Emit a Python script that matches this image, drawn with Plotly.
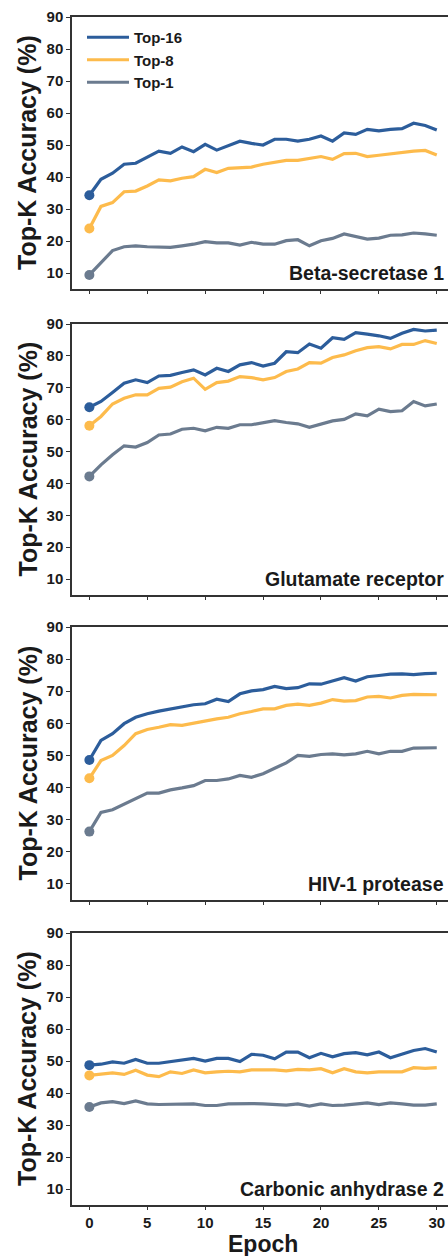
import plotly.graph_objects as go

epochs = list(range(31))

panel_names = ["Beta-secretase 1", "Glutamate receptor", "HIV-1 protease", "Carbonic anhydrase 2"]
series_names = ["Top-16", "Top-8", "Top-1"]

beta_top16 = [34.3, 39.3, 41.2, 44.0, 44.3, 46.1, 48.1, 47.4, 49.4, 47.9, 50.2, 48.4, 49.7, 51.2, 50.5, 50.0,
              51.8, 51.8, 51.2, 51.8, 52.8, 51.2, 53.8, 53.3, 54.9, 54.4, 54.9, 55.1, 56.8, 56.1, 54.7]
beta_top8 = [23.9, 30.8, 32.0, 35.4, 35.6, 37.2, 39.1, 38.8, 39.6, 40.1, 42.4, 41.4, 42.7, 42.9, 43.1, 44.0,
             44.5, 45.2, 45.2, 45.7, 46.4, 45.5, 47.3, 47.4, 46.4, 46.8, 47.3, 47.6, 48.1, 48.3, 46.9]
beta_top1 = [9.4, 13.3, 17.0, 18.2, 18.5, 18.2, 18.2, 18.0, 18.5, 19.0, 19.8, 19.4, 19.4, 18.7, 19.6, 19.0,
             19.0, 20.1, 20.4, 18.5, 20.1, 20.8, 22.2, 21.4, 20.6, 20.9, 21.8, 21.9, 22.5, 22.2, 21.8]

glu_top16 = [63.9, 65.7, 68.5, 71.4, 72.5, 71.6, 73.7, 73.9, 74.8, 75.6, 74.0, 76.1, 75.1, 77.2, 77.9, 76.8,
             77.7, 81.3, 81.0, 83.7, 82.4, 85.7, 85.2, 87.3, 86.8, 86.3, 85.5, 87.1, 88.3, 87.8, 88.1]
glu_top8 = [58.1, 61.0, 64.9, 66.7, 67.8, 67.8, 69.8, 70.2, 71.9, 73.0, 69.5, 71.6, 72.1, 73.5, 73.2, 72.5,
            73.2, 75.1, 75.9, 77.9, 77.7, 79.5, 80.3, 81.6, 82.6, 82.9, 82.2, 83.6, 83.6, 84.8, 83.9]
glu_top1 = [42.2, 45.8, 49.0, 51.8, 51.4, 52.8, 55.2, 55.5, 57.0, 57.3, 56.5, 57.6, 57.3, 58.4, 58.4, 59.1,
            59.7, 59.1, 58.7, 57.6, 58.7, 59.6, 60.1, 61.8, 61.2, 63.3, 62.5, 62.8, 65.7, 64.3, 64.9]

hiv_top16 = [48.6, 54.7, 56.8, 59.9, 61.9, 63.0, 63.8, 64.5, 65.3, 65.8, 66.1, 67.5, 66.8, 69.2, 70.1, 70.5,
             71.5, 70.8, 71.1, 72.3, 72.2, 73.1, 74.2, 73.2, 74.5, 74.9, 75.3, 75.4, 75.2, 75.5, 75.6]
hiv_top8 = [42.9, 48.4, 50.0, 53.1, 56.8, 58.1, 58.8, 59.6, 59.4, 60.1, 60.9, 61.4, 61.9, 63.0, 63.7, 64.5,
            64.5, 65.6, 66.0, 65.6, 66.3, 67.4, 66.9, 67.1, 68.2, 68.4, 67.9, 68.7, 69.0, 69.0, 68.9]
hiv_top1 = [26.3, 32.3, 33.1, 34.9, 36.5, 38.3, 38.3, 39.3, 39.9, 40.6, 42.2, 42.2, 42.7, 43.8, 43.2, 44.3,
            46.0, 47.7, 50.0, 49.7, 50.3, 50.5, 50.2, 50.5, 51.3, 50.5, 51.3, 51.3, 52.3, 52.4, 52.4]

ca_top16 = [48.7, 49.0, 49.7, 49.3, 50.5, 49.3, 49.3, 49.8, 50.2, 50.8, 50.0, 50.8, 50.8, 49.8, 52.1, 51.8,
            50.7, 52.8, 52.8, 51.0, 52.4, 51.3, 52.3, 52.6, 51.9, 52.8, 51.0, 52.1, 53.3, 53.9, 52.8]
ca_top8 = [45.5, 45.8, 46.3, 45.8, 47.1, 45.6, 45.1, 46.6, 46.1, 47.2, 46.3, 46.6, 46.8, 46.6, 47.2, 47.2,
           47.2, 46.9, 47.4, 47.2, 47.6, 46.3, 47.6, 46.6, 46.3, 46.6, 46.6, 46.6, 47.9, 47.7, 47.9]
ca_top1 = [35.6, 36.9, 37.3, 36.7, 37.5, 36.6, 36.4, 36.4, 36.4, 36.6, 36.1, 36.1, 36.6, 36.7, 36.7, 36.6,
           36.4, 36.2, 36.6, 35.9, 36.6, 36.1, 36.2, 36.6, 36.9, 36.4, 36.9, 36.6, 36.2, 36.2, 36.6]

panels = [
    [beta_top16, beta_top8, beta_top1],
    [glu_top16, glu_top8, glu_top1],
    [hiv_top16, hiv_top8, hiv_top1],
    [ca_top16, ca_top8, ca_top1],
]

y_ticks = [10, 20, 30, 40, 50, 60, 70, 80, 90]
x_ticks = [0, 5, 10, 15, 20, 25, 30]

colors = ["#2c5d9b", "#fdbb4c", "#6b7b8f"]
FONT = "Liberation Sans, Arial, sans-serif"
TXT = "#1a1a1a"
AX = "#333333"

W, H = 448, 1256
# pixel layout of each panel (top, bottom)
panel_px = [(17, 289), (324, 595), (627, 900), (933, 1205)]
x_left_px = 72

fig = go.Figure()
layout = dict(
    width=W, height=H,
    margin=dict(l=0, r=0, t=0, b=0),
    paper_bgcolor="white", plot_bgcolor="white",
    font=dict(family=FONT, color=TXT),
    showlegend=True,
    legend=dict(x=82 / W, y=(H - 21) / H, xanchor="left", yanchor="top",
                bgcolor="rgba(0,0,0,0)", font=dict(size=15, family=FONT, color=TXT),
                tracegroupgap=0, itemwidth=42),
)
annotations = []

for p, (vals, name) in enumerate(zip(panels, panel_names)):
    idx = p + 1
    xa = "x" if idx == 1 else f"x{idx}"
    ya = "y" if idx == 1 else f"y{idx}"
    for s, (v, sname) in enumerate(zip(vals, series_names)):
        fig.add_trace(go.Scatter(
            x=epochs, y=v, mode="lines", name=f"<b>{sname}</b>",
            line=dict(color=colors[s], width=3.2),
            xaxis=xa, yaxis=ya, showlegend=(p == 0), legendgroup=sname,
        ))
    for s, v in enumerate(vals):
        fig.add_trace(go.Scatter(
            x=epochs[:1], y=v[:1], mode="markers",
            marker=dict(color=colors[s], size=10),
            xaxis=xa, yaxis=ya, showlegend=False, hoverinfo="skip",
        ))
    top, bot = panel_px[p]
    ydom = [(H - bot) / H, (H - top) / H]
    last = (p == 3)
    layout["xaxis" if idx == 1 else f"xaxis{idx}"] = dict(
        domain=[x_left_px / W, 1.0], range=[-1.5, 30.97],
        anchor=ya, showline=True, linecolor=AX, linewidth=1.5, mirror=True,
        ticks="outside", ticklen=3, tickwidth=1.2, tickcolor=AX,
        tickvals=x_ticks, ticktext=[f"<b>{t}</b>" for t in x_ticks],
        showticklabels=last, tickfont=dict(size=15, family=FONT, color=TXT),
        showgrid=False, zeroline=False, automargin=False,
    )
    layout["yaxis" if idx == 1 else f"yaxis{idx}"] = dict(
        domain=ydom, range=[5, 90], anchor=xa,
        showline=True, linecolor=AX, linewidth=1.5,
        ticks="outside", ticklen=4, tickwidth=1.2, tickcolor=AX,
        tickvals=y_ticks, ticktext=[f"<b>{t}</b>" for t in y_ticks],
        tickfont=dict(size=15, family=FONT, color=TXT),
        showgrid=False, zeroline=False, automargin=False,
    )
    annotations.append(dict(
        text="<b>Top-K Accuracy (%)</b>", textangle=-90,
        xref="paper", yref=f"{ya} domain", x=27 / W, y=0.5,
        xanchor="center", yanchor="middle", showarrow=False,
        font=dict(size=25, family=FONT, color=TXT),
    ))
    annotations.append(dict(
        text=f"<b>{name}</b>", xref="paper", yref=ya,
        x=446 / W, y=10, xanchor="right", yanchor="middle", showarrow=False,
        font=dict(size=19.5, family=FONT, color=TXT),
    ))

annotations.append(dict(
    text="<b>Epoch</b>", xref="paper", yref="paper",
    x=263 / W, y=(H - 1243.5) / H, xanchor="center", yanchor="middle", showarrow=False,
    font=dict(size=23, family=FONT, color=TXT),
))
layout["annotations"] = annotations
fig.update_layout(**layout)
fig.write_html(
    "out.html",
    config={"displayModeBar": False},
    post_script="document.body.style.margin='0px';document.body.style.padding='0px';"
                "document.body.style.overflow='hidden';",
)
